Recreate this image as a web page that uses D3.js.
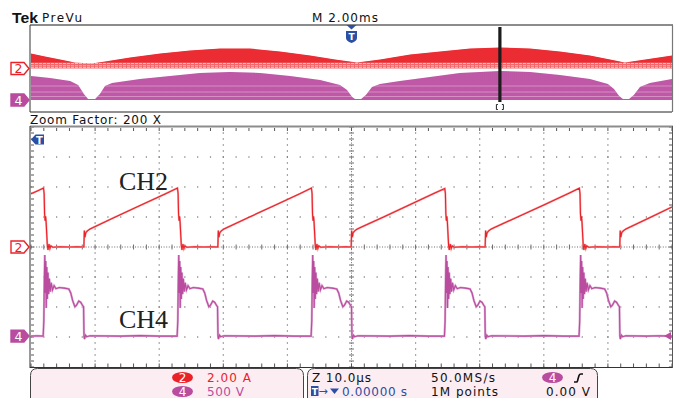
<!DOCTYPE html>
<html><head><meta charset="utf-8">
<script src="https://cdn.jsdelivr.net/npm/d3@7"></script>
<style>
body{margin:0;background:#fff}
svg{display:block}
</style>
</head><body>
<svg id="c" width="680" height="398" font-family="DejaVu Sans, sans-serif"></svg>
<script>
// ---------- DATA ----------
// Main (zoomed) view: time in microseconds, CH2 current in A, CH4 voltage in V
const ch2Trace = [
[-50.0,3.55],[-49.0,3.74],[-48.05,3.93],
[-47.95,3.55],[-47.88,2.2],[-47.8,1.75],[-47.72,2.05],[-47.64,1.65],[-47.55,0.9],[-47.45,0.1],[-47.35,-0.2],[-47.2,0.2],[-47.05,-0.1],[-46.9,0.08],[-46.6,-0.02],[-45.5,0.02],[-44.0,0.0],[-42.8,0.02],[-41.75,0.0],
[-41.68,1.1],[-41.58,0.65],[-41.45,0.95],[-41.2,1.08],[-40.8,1.2],[-40.3,1.3],[-37.0,1.97],[-33.0,2.76],[-29.0,3.55],[-27.15,3.93],
[-27.05,3.55],[-26.98,2.2],[-26.9,1.75],[-26.82,2.05],[-26.74,1.65],[-26.65,0.9],[-26.55,0.1],[-26.45,-0.2],[-26.3,0.2],[-26.15,-0.1],[-26.0,0.08],[-25.7,-0.02],[-24.5,0.02],[-23.0,0.0],[-21.8,0.02],[-20.85,0.0],
[-20.78,1.1],[-20.68,0.65],[-20.55,0.95],[-20.3,1.08],[-19.9,1.2],[-19.4,1.3],[-16.0,1.98],[-12.0,2.77],[-8.0,3.56],[-6.25,3.93],
[-6.15,3.55],[-6.08,2.2],[-6.0,1.75],[-5.92,2.05],[-5.84,1.65],[-5.75,0.9],[-5.65,0.1],[-5.55,-0.2],[-5.4,0.2],[-5.25,-0.1],[-5.1,0.08],[-4.8,-0.02],[-3.5,0.02],[-2.0,0.0],[-0.9,0.02],[-0.05,0.0],
[0.02,1.1],[0.12,0.65],[0.25,0.95],[0.5,1.08],[0.9,1.2],[1.4,1.3],[5.0,2.0],[9.0,2.8],[13.0,3.6],[14.55,3.9],
[14.65,3.55],[14.72,2.2],[14.8,1.75],[14.88,2.05],[14.96,1.65],[15.05,0.9],[15.15,0.1],[15.25,-0.2],[15.4,0.2],[15.55,-0.1],[15.7,0.08],[16.0,-0.02],[17.3,0.02],[18.8,0.0],[20.0,0.02],[20.85,0.0],
[20.92,1.1],[21.02,0.65],[21.15,0.95],[21.4,1.08],[21.8,1.2],[22.3,1.3],[26.0,2.02],[30.0,2.8],[34.0,3.6],[35.55,3.92],
[35.65,3.55],[35.72,2.2],[35.8,1.75],[35.88,2.05],[35.96,1.65],[36.05,0.9],[36.15,0.1],[36.25,-0.2],[36.4,0.2],[36.55,-0.1],[36.7,0.08],[37.0,-0.02],[38.3,0.02],[39.8,0.0],[41.0,0.02],[41.85,0.0],
[41.92,1.1],[42.02,0.65],[42.15,0.95],[42.4,1.08],[42.8,1.2],[43.3,1.3],[46.5,1.95],[50.0,2.67]
];
const ch4Trace = [
[-50,0],[-49,5],[-48.1,0],
[-48.0,250],[-47.92,950],[-47.85,1350],[-47.78,720],[-47.7,1250],[-47.62,470],[-47.54,1150],[-47.45,620],[-47.35,1060],[-47.25,700],[-47.13,960],[-47.0,740],[-46.85,890],[-46.65,770],[-46.4,840],[-46.1,790],[-45.6,810],[-44.8,800],[-44.1,785],[-43.8,720],[-43.5,590],[-43.15,490],[-42.9,515],[-42.55,585],[-42.25,565],[-41.95,510],[-41.8,490],[-41.73,0],[-41.65,-50],[-41.5,15],[-41.3,-10],[-40.8,5],[-36,0],[-33,8],[-30,0],[-27.2,0],
[-27.1,250],[-27.02,950],[-26.95,1350],[-26.88,720],[-26.8,1250],[-26.72,470],[-26.64,1150],[-26.55,620],[-26.45,1060],[-26.35,700],[-26.23,960],[-26.1,740],[-25.95,890],[-25.75,770],[-25.5,840],[-25.2,790],[-24.7,810],[-23.9,800],[-23.2,785],[-22.9,720],[-22.6,590],[-22.25,490],[-22.0,515],[-21.65,585],[-21.35,565],[-21.05,510],[-20.9,490],[-20.83,0],[-20.75,-50],[-20.6,15],[-20.4,-10],[-19.9,5],[-15,0],[-12,8],[-9,0],[-6.3,0],
[-6.2,250],[-6.12,950],[-6.05,1350],[-5.98,720],[-5.9,1250],[-5.82,470],[-5.74,1150],[-5.65,620],[-5.55,1060],[-5.45,700],[-5.33,960],[-5.2,740],[-5.05,890],[-4.85,770],[-4.6,840],[-4.3,790],[-3.8,810],[-3.0,800],[-2.3,785],[-2.0,720],[-1.7,590],[-1.35,490],[-1.1,515],[-0.75,585],[-0.45,565],[-0.15,510],[0.0,490],[0.07,0],[0.15,-50],[0.3,15],[0.5,-10],[1.0,5],[6,0],[9,8],[12,0],[14.5,0],
[14.6,250],[14.68,950],[14.75,1350],[14.82,720],[14.9,1250],[14.98,470],[15.06,1150],[15.15,620],[15.25,1060],[15.35,700],[15.47,960],[15.6,740],[15.75,890],[15.95,770],[16.2,840],[16.5,790],[17.0,810],[17.8,800],[18.5,785],[18.8,720],[19.1,590],[19.45,490],[19.7,515],[20.05,585],[20.35,565],[20.65,510],[20.8,490],[20.87,0],[20.95,-50],[21.1,15],[21.3,-10],[21.8,5],[27,0],[30,8],[33,0],[35.5,0],
[35.6,250],[35.68,950],[35.75,1350],[35.82,720],[35.9,1250],[35.98,470],[36.06,1150],[36.15,620],[36.25,1060],[36.35,700],[36.47,960],[36.6,740],[36.75,890],[36.95,770],[37.2,840],[37.5,790],[38.0,810],[38.8,800],[39.5,785],[39.8,720],[40.1,590],[40.45,490],[40.7,515],[41.05,585],[41.35,565],[41.65,510],[41.8,490],[41.87,0],[41.95,-50],[42.1,15],[42.3,-10],[42.8,5],[46,0],[48,6],[50,0]
];
// Preview (PreVu) envelopes: time in ms, envelope maximum (A / V)
const prevCh2Env = [
[-10.0,2.75],[-9.56,2.2],[-9.09,1.65],[-8.63,1.1],[-8.10,0.92],[-7.69,1.28],[-6.91,2.02],[-5.97,2.75],[-5.04,3.3],[-4.10,3.67],[-3.17,3.67],[-2.23,3.12],[-1.29,2.39],[-0.51,1.65],[0.17,1.1],[0.89,1.65],[1.83,2.57],[2.76,3.12],[3.70,3.67],[4.63,3.85],[5.57,3.67],[6.50,3.12],[7.44,2.39],[8.07,1.65],[8.53,1.1],[9.16,1.65],[10.0,2.39]
];
const prevCh4Env = [
[-10.0,1100],[-9.41,1010],[-8.78,872],[-8.53,689],[-8.35,275],[-8.22,46],[-8.0,46],[-7.85,275],[-7.69,643],[-7.47,780],[-6.60,964],[-5.66,1100],[-4.73,1240],[-3.79,1285],[-2.85,1240],[-1.92,1100],[-0.98,918],[-0.36,689],[-0.14,459],[0.02,138],[0.11,46],[0.30,46],[0.45,230],[0.64,597],[0.89,734],[1.51,872],[2.45,1056],[3.38,1240],[4.63,1331],[5.57,1285],[6.50,1148],[7.44,964],[8.0,734],[8.19,505],[8.35,184],[8.47,46],[8.66,46],[8.81,230],[9.0,597],[9.31,780],[10.0,964]
];
const zoomWindowMs = 4.63;      // position of zoom window in preview
const ch2Scale = 2.0;   // A/div
const ch4Scale = 500;   // V/div
const ch2Offset = 0;    // div
const ch4Offset = -2.97;// div
const labelCh2 = "CH2", labelCh4 = "CH4";
const headerTexts = ["Tek","PreVu","M 2.00ms","Zoom Factor: 200 X"];
const infoLeft = [["2","2.00 A"],["4","500 V"]];
const infoRight = ["Z 10.0\u00b5s","50.0MS/s","0.00000 s","1M points","0.00 V"];

// ---------- COLORS ----------
const RED="#ea2228", RED_L="#f6a3a6", RED_P="#f06266", MAG="#b94c9f", MAG_L="#dba2cf", BLUE="#2c4ea3";
const SERIF='"Liberation Serif","Times New Roman",serif';

const svg=d3.select('#c');

// ---------- PREVIEW ----------
const xPrev=d3.scaleLinear().domain([-10,10]).range([31,672]);
const yPrevA=d3.scaleLinear().domain([0,2]).range([68.5,57.6]);
const yPrevV=d3.scaleLinear().domain([0,500]).range([100,89.1]);

const defs=svg.append('defs');
const areaRed=d3.area().x(d=>xPrev(d[0])).y0(yPrevA(0)).y1(d=>yPrevA(d[1]));
const areaMag=d3.area().x(d=>xPrev(d[0])).y0(yPrevV(0)).y1(d=>yPrevV(d[1]));
defs.append('clipPath').attr('id','cpR').append('path').attr('d',areaRed(prevCh2Env));
defs.append('clipPath').attr('id','cpM').append('path').attr('d',areaMag(prevCh4Env));

const gp=svg.append('g');
// red band
const gR=gp.append('g').attr('clip-path','url(#cpR)');
gR.append('rect').attr('x',31).attr('y',40).attr('width',641).attr('height',30).attr('fill',RED_P);
gR.append('path').attr('fill',RED)
  .attr('d',d3.area().x(d=>xPrev(d[0])).y0(d=>yPrevA(Math.min(d[1],1.1))).y1(d=>yPrevA(d[1]))(prevCh2Env));
[63.5,65.8,67.6].forEach(y=>gR.append('line').attr('x1',31).attr('x2',672).attr('y1',y).attr('y2',y)
  .attr('stroke','#fff').attr('stroke-width',0.7).attr('stroke-dasharray','3,1').attr('opacity',0.75));
gR.append('g').selectAll('line').data(d3.range(31,672,2)).join('line')
  .attr('x1',d=>d).attr('x2',d=>d).attr('y1',40).attr('y2',70)
  .attr('stroke','#fff').attr('stroke-width',0.5).attr('opacity',0.2);
// magenta band
const gM=gp.append('g').attr('clip-path','url(#cpM)');
gM.append('rect').attr('x',31).attr('y',60).attr('width',641).attr('height',45).attr('fill',MAG);
gM.append('g').selectAll('line').data(d3.range(31,672,2)).join('line')
  .attr('x1',d=>d).attr('x2',d=>d).attr('y1',60).attr('y2',105)
  .attr('stroke','#e6b8de').attr('stroke-width',0.6).attr('opacity',0.4);
[86,92,96.5].forEach(y=>gM.append('line').attr('x1',31).attr('x2',672).attr('y1',y).attr('y2',y)
  .attr('stroke','#e8c0e0').attr('stroke-width',0.9).attr('opacity',0.6));

// preview frame
gp.append('line').attr('x1',30).attr('x2',673).attr('y1',25).attr('y2',25).attr('stroke','#8c8c8c').attr('stroke-width',2);
gp.append('line').attr('x1',30).attr('x2',672).attr('y1',112).attr('y2',112).attr('stroke','#222').attr('stroke-width',1);
gp.append('line').attr('x1',30).attr('x2',30).attr('y1',25).attr('y2',112).attr('stroke','#333').attr('stroke-width',1);
gp.append('line').attr('x1',672.5).attr('x2',672.5).attr('y1',25).attr('y2',112).attr('stroke','#777').attr('stroke-width',1.2);

// zoom window bar
const xz=xPrev(zoomWindowMs);
gp.append('rect').attr('x',xz-1.6).attr('y',27).attr('width',3.2).attr('height',75).attr('fill','#1c1c1c');
gp.append('path').attr('d',`M${xz-2},104.5 L${xz-3.5},104.5 L${xz-3.5},109.5 L${xz-2},109.5 M${xz+2},104.5 L${xz+3.5},104.5 L${xz+3.5},109.5 L${xz+2},109.5`)
  .attr('fill','none').attr('stroke','#222').attr('stroke-width',1);

// preview T marker
const xt=xPrev(0);
gp.append('path').attr('d',`M${xt-5},25 L${xt+5},25 L${xt},29.5 Z`).attr('fill',BLUE);
gp.append('path').attr('d',`M${xt-5.5},31 L${xt+5.5},31 L${xt+5.5},38 Q${xt+5.5},41 ${xt},43 Q${xt-5.5},41 ${xt-5.5},38 Z`).attr('fill',BLUE);
gp.append('text').attr('x',xt).attr('y',40).attr('text-anchor','middle').attr('font-size',9).attr('font-weight','bold').attr('fill','#fff').text('T');

// channel markers
function marker(g,y,label,color,filled){
  const x0=11,x1=29;
  g.append('path').attr('d',`M${x0},${y-6} L${x1-5},${y-6} L${x1},${y} L${x1-5},${y+6} L${x0},${y+6} Z`)
   .attr('fill',filled?color:'#fff').attr('stroke',color).attr('stroke-width',1.4);
  g.append('text').attr('x',(x0+x1-4)/2+0.5).attr('y',y+4.5).attr('text-anchor','middle').attr('font-size',12.5)
   .attr('fill',filled?'#fff':color).text(label);
}
marker(gp,yPrevA(0),'2',RED,false);
marker(gp,yPrevV(0),'4',MAG,true);

// header texts
svg.append('text').attr('x',12).attr('y',22.5).style('font-family','"Liberation Sans",Arial,sans-serif').attr('font-weight','bold')
  .attr('font-size',15.5).attr('textLength',26).attr('lengthAdjust','spacingAndGlyphs').attr('fill','#111').text(headerTexts[0]);
svg.append('text').attr('x',42).attr('y',21.5).attr('font-size',12).attr('textLength',40).attr('lengthAdjust','spacing').attr('fill','#111').text(headerTexts[1]);
svg.append('text').attr('x',312).attr('y',21.5).attr('font-size',12).attr('textLength',66).attr('lengthAdjust','spacing').attr('fill','#111').text(headerTexts[2]);
svg.append('text').attr('x',30).attr('y',124).attr('font-size',12).attr('textLength',131).attr('lengthAdjust','spacing').attr('fill','#111').text(headerTexts[3]);

// ---------- MAIN GRID ----------
const xMain=d3.scaleLinear().domain([-50,50]).range([31,672]);
const yDiv=d3.scaleLinear().domain([-4,4]).range([367,127]);
const xDiv=d3.scaleLinear().domain([-5,5]).range([31,672]);
const gg=svg.append('g');
const GRID="#6e6e6e";
const xMinor=d3.range(-5,5.001,0.2), yMinor=d3.range(-4,4.001,0.2);
[-3,-2,-1,1,2,3].forEach(k=>{
  gg.append('g').selectAll('rect').data(xMinor).join('rect')
   .attr('x',d=>xDiv(d)-0.6).attr('y',yDiv(k)-0.6).attr('width',1.2).attr('height',1.2).attr('fill',GRID);
});
[-4,-3,-2,-1,1,2,3,4].forEach(k=>{
  gg.append('g').selectAll('rect').data(yMinor).join('rect')
   .attr('x',xDiv(k)-0.6).attr('y',d=>yDiv(d)-0.6).attr('width',1.2).attr('height',1.2).attr('fill',GRID);
});
gg.append('line').attr('x1',31).attr('x2',672).attr('y1',yDiv(0)).attr('y2',yDiv(0)).attr('stroke',GRID).attr('stroke-width',1).attr('stroke-dasharray','1,1.6');
gg.append('line').attr('x1',xDiv(0)).attr('x2',xDiv(0)).attr('y1',127).attr('y2',367).attr('stroke',GRID).attr('stroke-width',1).attr('stroke-dasharray','1,1.6');
gg.append('g').selectAll('line').data(xMinor).join('line')
  .attr('x1',d=>xDiv(d)).attr('x2',d=>xDiv(d)).attr('y1',yDiv(0)-2.5).attr('y2',yDiv(0)+2.5).attr('stroke',GRID).attr('stroke-width',1);
gg.append('g').selectAll('line').data(yMinor).join('line')
  .attr('x1',xDiv(0)-2.5).attr('x2',xDiv(0)+2.5).attr('y1',d=>yDiv(d)).attr('y2',d=>yDiv(d)).attr('stroke',GRID).attr('stroke-width',1);
gg.append('g').selectAll('line').data(xMinor).join('line')
  .attr('x1',d=>xDiv(d)).attr('x2',d=>xDiv(d)).attr('y1',367).attr('y2',363.5).attr('stroke','#555').attr('stroke-width',1);
gg.append('g').selectAll('line').data(xMinor).join('line')
  .attr('x1',d=>xDiv(d)).attr('x2',d=>xDiv(d)).attr('y1',128).attr('y2',131).attr('stroke','#555').attr('stroke-width',1);
gg.append('g').selectAll('line').data(yMinor).join('line')
  .attr('x1',31).attr('x2',34).attr('y1',d=>yDiv(d)).attr('y2',d=>yDiv(d)).attr('stroke','#555').attr('stroke-width',1);
gg.append('g').selectAll('line').data(yMinor).join('line')
  .attr('x1',672).attr('x2',669).attr('y1',d=>yDiv(d)).attr('y2',d=>yDiv(d)).attr('stroke','#555').attr('stroke-width',1);
gg.append('line').attr('x1',30).attr('x2',673).attr('y1',126.5).attr('y2',126.5).attr('stroke','#8c8c8c').attr('stroke-width',2);
gg.append('line').attr('x1',30).attr('x2',672).attr('y1',367.5).attr('y2',367.5).attr('stroke','#333').attr('stroke-width',1);
gg.append('line').attr('x1',30).attr('x2',30).attr('y1',126).attr('y2',368).attr('stroke','#333').attr('stroke-width',1);
gg.append('line').attr('x1',672.5).attr('x2',672.5).attr('y1',126).attr('y2',368).attr('stroke','#555').attr('stroke-width',1);

// ---------- TRACES ----------
const yCh2=a=>yDiv(ch2Offset+a/ch2Scale);
const yCh4=v=>yDiv(ch4Offset+v/ch4Scale);
const lineCh2=d3.line().x(d=>xMain(d[0])).y(d=>yCh2(d[1]));
const lineCh4=d3.line().x(d=>xMain(d[0])).y(d=>yCh4(d[1]));
const gt=svg.append('g');
gt.append('path').attr('d',lineCh4(ch4Trace)).attr('fill','none').attr('stroke',MAG_L).attr('stroke-width',2.2);
gt.append('path').attr('d',lineCh4(ch4Trace)).attr('fill','none').attr('stroke',MAG).attr('stroke-width',1.1);
gt.append('path').attr('d',lineCh2(ch2Trace)).attr('fill','none').attr('stroke',RED_L).attr('stroke-width',2.0);
gt.append('path').attr('d',lineCh2(ch2Trace)).attr('fill','none').attr('stroke',RED).attr('stroke-width',1.1);

const yTrig=yCh4(0);
gt.append('path').attr('d',`M664,${yTrig} L671,${yTrig-4} L671,${yTrig+4} Z`).attr('fill',MAG);

// main T marker
const gT=svg.append('g');
gT.append('path').attr('d','M31,139.5 L35.5,134.5 L44,134.5 L44,144.5 L35.5,144.5 Z').attr('fill',BLUE);
gT.append('text').attr('x',39.5).attr('y',143.5).attr('text-anchor','middle').attr('font-size',10).attr('font-weight','bold').attr('fill','#fff').text('T');

marker(svg,yCh2(0),'2',RED,false);
marker(svg,yCh4(0),'4',MAG,true);

// CH labels
svg.append('text').attr('x',119).attr('y',190).style('font-family',SERIF).attr('font-size',26).attr('fill','#222').text(labelCh2);
svg.append('text').attr('x',119).attr('y',328).style('font-family',SERIF).attr('font-size',26).attr('fill','#222').text(labelCh4);

// ---------- INFO PANELS ----------
function panel(x0,x1){
  const r=7,y0=368.5,yb=402;
  svg.append('path').attr('d',`M${x0},${yb} L${x0},${y0+r} Q${x0},${y0} ${x0+r},${y0} L${x1-r},${y0} Q${x1},${y0} ${x1},${y0+r} L${x1},${yb}`)
    .attr('fill','#fcedf2').attr('stroke','#444').attr('stroke-width',1);
}
panel(30.5,303.5);
panel(307.5,597.5);
function pill(cx,cy,label,color){
  svg.append('ellipse').attr('cx',cx).attr('cy',cy).attr('rx',10.5).attr('ry',5.6).attr('fill',color);
  svg.append('text').attr('x',cx).attr('y',cy+4.5).attr('text-anchor','middle').attr('font-size',12).attr('fill','#fff').text(label);
}
pill(182.5,377.5,infoLeft[0][0],RED);
pill(182.5,391.5,infoLeft[1][0],MAG);
svg.append('text').attr('x',207).attr('y',382).attr('font-size',12).attr('textLength',44).attr('lengthAdjust','spacing').attr('fill',RED).text(infoLeft[0][1]);
svg.append('text').attr('x',207).attr('y',396).attr('font-size',12).attr('textLength',37).attr('lengthAdjust','spacing').attr('fill',MAG).text(infoLeft[1][1]);

svg.append('text').attr('x',312).attr('y',382).attr('font-size',12).attr('textLength',59).attr('lengthAdjust','spacing').attr('fill','#111').text(infoRight[0]);
svg.append('text').attr('x',431).attr('y',382).attr('font-size',12).attr('textLength',64).attr('lengthAdjust','spacing').attr('fill','#111').text(infoRight[1]);
pill(552.5,377.5,'4',MAG);
svg.append('path').attr('d','M574,382 L576.5,382 Q577.5,382 578,379 L579,375.5 Q579.5,374 581,374 L583,374').attr('fill','none').attr('stroke','#111').attr('stroke-width',1.6);
svg.append('rect').attr('x',311).attr('y',386).attr('width',7.5).attr('height',10).attr('fill',BLUE);
svg.append('text').attr('x',314.8).attr('y',394.5).attr('text-anchor','middle').attr('font-size',9).attr('font-weight','bold').attr('fill','#fff').text('T');
svg.append('text').attr('x',318.5).attr('y',395).attr('font-size',11).attr('fill',BLUE).text('\u2192');
svg.append('path').attr('d','M330,388.5 L339,388.5 L334.5,394 Z').attr('fill',BLUE);
svg.append('text').attr('x',342).attr('y',396).attr('font-size',12).attr('textLength',65).attr('lengthAdjust','spacing').attr('fill',BLUE).text(infoRight[2]);
svg.append('text').attr('x',431).attr('y',396).attr('font-size',12).attr('textLength',67).attr('lengthAdjust','spacing').attr('fill','#111').text(infoRight[3]);
svg.append('text').attr('x',546).attr('y',396).attr('font-size',12).attr('textLength',44).attr('lengthAdjust','spacing').attr('fill','#111').text(infoRight[4]);
</script>
</body></html>
